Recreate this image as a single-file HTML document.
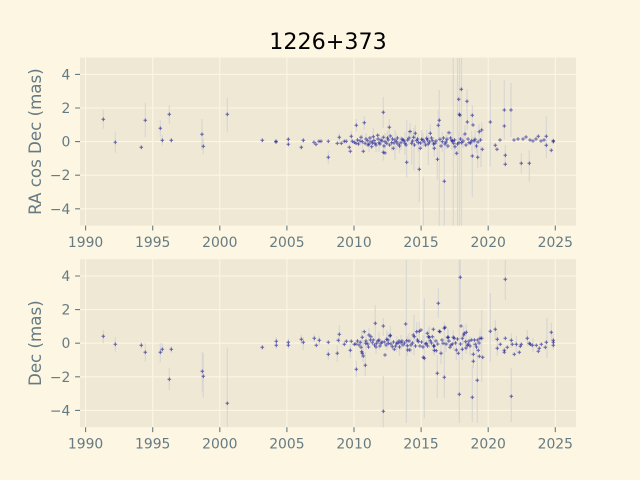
<!DOCTYPE html>
<html><head><meta charset="utf-8"><style>
html,body{margin:0;padding:0;background:#fdf6e3;}
svg{display:block;}
text{font-family:"DejaVu Sans","Liberation Sans",sans-serif;}
</style></head><body>
<svg width="640" height="480" viewBox="0 0 640 480" xmlns="http://www.w3.org/2000/svg">
<defs>
<path id="m" d="M-1.8 0H1.8M0 -1.8V1.8" stroke="#00008b" stroke-opacity="0.58" stroke-width="1" fill="none"/>
<clipPath id="c1"><rect x="80" y="57.6" width="496" height="168"/></clipPath>
<clipPath id="c2"><rect x="80" y="259.2" width="496" height="168"/></clipPath>
</defs>
<rect width="640" height="480" fill="#fdf6e3"/>
<text x="328" y="48.8" font-size="22.2" text-anchor="middle" fill="#000">1226+373</text>

<!-- ========== TOP AXES ========== -->
<rect x="80" y="57.6" width="496" height="168" fill="#eee8d5"/>
<g stroke="#fdf6e3" stroke-width="1.1">
<path d="M85.6 57.6V225.6M152.7 57.6V225.6M219.8 57.6V225.6M286.9 57.6V225.6M354 57.6V225.6M421.1 57.6V225.6M488.2 57.6V225.6M555.3 57.6V225.6"/>
<path d="M80 74.4H576M80 108H576M80 141.6H576M80 175.2H576M80 208.8H576"/>
</g>
<g clip-path="url(#c1)">
<path fill="none" stroke="#d3d3d3" stroke-opacity="0.85" stroke-width="1.2" d="
M103.3 109.8V128.8M115.3 131.7V152.7M141.3 145.3V149.3M145.3 103.3V137.3M160.3 120V136.7M162.3 135V145.6M169.3 105.3V124M171.3 138V142.6
M202 119V150M203.3 138V154.6M227.3 97.7V131.7M262.3 138.5V142.2M276 139.5V143.5M288.3 137V146.5M301.3 145V149.6M303.3 138V142.6
M328.3 151V163.6M339.3 133V141.6M351.3 131V141.6M356.3 119V131.6M364.3 116V129.4M383.3 97V128M389.3 119V135.6M383.3 144V160.6
M406.7 120V173M411.7 130V165M414 131.7V170M419.3 140V180M406.7 147V177.6M410 123V139.6M415.3 125V141.6M419.3 150V201.7M423.3 176.7V226
M437.3 139V179.6M438.3 110V140.6M439.3 90V226M444.3 140V226M453.3 58V226M457.5 58V226M459.5 58V226M461.5 58V226
M467 89V113.6M467.3 114V130M472.3 105V125.6M472.3 136.7V196.7M477.7 147V167.6M490.3 80V166.7M504.3 80V140M505.3 145V165M511 83V137
M521.3 153V173.6M529.3 150V181.7M546.3 116V158
M362.3 134V149M369 136V152M373.3 128V146M379 134V152M385 133V150M391.7 135V151M396.7 133V150M401 136V150M405 132V155
M413.7 128V147M418.3 134V152M421.7 130V149M426.7 130V147M430.3 124V142M434.3 140V157M442.3 132V152M447 131V149M451.7 132V150
M455 138V156M459 132V152M465 125V143M471.7 131V151M475 130V149M479 124V142M481.7 122V141M481 146V167M428.3 135V165M395 130V160
M366 133V146M376 138V152M387.5 131V145M399.5 139V153M409 131V145M423 133V147M433.5 137V151M446 135V149M463 134V148M476.5 139V153
"/>
<g>
<use href="#m" x="103.3" y="119.3"/><use href="#m" x="115.3" y="142.3"/><use href="#m" x="141.3" y="147.3"/><use href="#m" x="145.3" y="120.3"/>
<use href="#m" x="160.3" y="128.3"/><use href="#m" x="162.3" y="140.3"/><use href="#m" x="169.3" y="114.3"/><use href="#m" x="171.3" y="140.3"/>
<use href="#m" x="202" y="134.3"/><use href="#m" x="203.3" y="146.3"/><use href="#m" x="227.3" y="114.3"/><use href="#m" x="262.3" y="140.3"/>
<use href="#m" x="276" y="141.3"/><use href="#m" x="276" y="142"/><use href="#m" x="288.3" y="139.3"/><use href="#m" x="288.3" y="144.3"/>
<use href="#m" x="301.3" y="147.3"/><use href="#m" x="303.3" y="140.3"/><use href="#m" x="314" y="142.3"/><use href="#m" x="316" y="144.3"/>
<use href="#m" x="319" y="141.3"/><use href="#m" x="321" y="141.3"/><use href="#m" x="328.3" y="141.3"/><use href="#m" x="328.3" y="157.3"/>
<use href="#m" x="337.3" y="143.3"/><use href="#m" x="339.3" y="137.3"/><use href="#m" x="341.3" y="143.3"/><use href="#m" x="344.3" y="141.3"/>
<use href="#m" x="346.3" y="141.3"/><use href="#m" x="349.3" y="147.3"/><use href="#m" x="350.3" y="151.3"/><use href="#m" x="351.3" y="136.3"/>
<use href="#m" x="352.3" y="141.3"/><use href="#m" x="354.3" y="142.3"/><use href="#m" x="356.3" y="125.3"/><use href="#m" x="356" y="143.3"/>
<use href="#m" x="361" y="137.3"/><use href="#m" x="362.3" y="141.7"/><use href="#m" x="363.3" y="151.3"/><use href="#m" x="364.3" y="122.7"/>
<use href="#m" x="365" y="143.3"/><use href="#m" x="367.7" y="140.7"/><use href="#m" x="369" y="144"/><use href="#m" x="371" y="141.7"/>
<use href="#m" x="371.7" y="146.7"/><use href="#m" x="373.3" y="136.7"/><use href="#m" x="375" y="143.3"/><use href="#m" x="377.7" y="135.3"/>
<use href="#m" x="379" y="142.7"/><use href="#m" x="381" y="140"/><use href="#m" x="383.3" y="137.3"/><use href="#m" x="383.3" y="112.3"/>
<use href="#m" x="383.3" y="152.3"/><use href="#m" x="385" y="141.7"/><use href="#m" x="385" y="153"/><use href="#m" x="386.7" y="143.3"/>
<use href="#m" x="388.3" y="140"/><use href="#m" x="389.3" y="127.3"/><use href="#m" x="390.3" y="136"/><use href="#m" x="391.7" y="142.7"/>
<use href="#m" x="393.3" y="148.3"/><use href="#m" x="395" y="140"/><use href="#m" x="396.7" y="141.7"/><use href="#m" x="398" y="144"/>
<use href="#m" x="401" y="142.7"/><use href="#m" x="403" y="140"/><use href="#m" x="405" y="143.3"/><use href="#m" x="406.7" y="162.3"/>
<use href="#m" x="407.7" y="140"/><use href="#m" x="410" y="131.5"/><use href="#m" x="411.7" y="143.3"/><use href="#m" x="413.7" y="137.3"/>
<use href="#m" x="415.3" y="133.3"/><use href="#m" x="416.7" y="140.7"/><use href="#m" x="418.3" y="142.7"/><use href="#m" x="419.3" y="169.3"/>
<use href="#m" x="420.3" y="148.3"/><use href="#m" x="421.7" y="139.3"/><use href="#m" x="424.3" y="142"/><use href="#m" x="426.7" y="138.3"/>
<use href="#m" x="428.3" y="144"/><use href="#m" x="430.3" y="133.3"/><use href="#m" x="432.3" y="140.7"/><use href="#m" x="434.3" y="148.3"/>
<use href="#m" x="435" y="143.3"/><use href="#m" x="437.5" y="159.3"/><use href="#m" x="438.3" y="125.3"/><use href="#m" x="439.3" y="120.3"/>
<use href="#m" x="440" y="139.3"/><use href="#m" x="442.3" y="141.7"/><use href="#m" x="444.3" y="181.3"/><use href="#m" x="445" y="144"/>
<use href="#m" x="447" y="139.3"/><use href="#m" x="449" y="132.7"/><use href="#m" x="451.7" y="140.7"/><use href="#m" x="453.7" y="143.3"/>
<use href="#m" x="455" y="146.7"/><use href="#m" x="456.7" y="153.3"/><use href="#m" x="458.7" y="99.3"/><use href="#m" x="459.3" y="114.3"/>
<use href="#m" x="460" y="115.3"/><use href="#m" x="461.3" y="89.3"/><use href="#m" x="459" y="142.7"/><use href="#m" x="461.7" y="142.7"/>
<use href="#m" x="465" y="134"/><use href="#m" x="467" y="101.3"/><use href="#m" x="467.3" y="122"/><use href="#m" x="469" y="142.7"/>
<use href="#m" x="471.7" y="140.7"/><use href="#m" x="472.3" y="115.3"/><use href="#m" x="473" y="125"/><use href="#m" x="472.3" y="156"/>
<use href="#m" x="475" y="139.3"/><use href="#m" x="477.7" y="157.3"/><use href="#m" x="479.3" y="131.7"/><use href="#m" x="481.7" y="130"/>
<use href="#m" x="482.3" y="149.3"/><use href="#m" x="490.3" y="122"/><use href="#m" x="495.3" y="145.3"/><use href="#m" x="497" y="149.3"/>
<use href="#m" x="500" y="140"/><use href="#m" x="504.3" y="110"/><use href="#m" x="504.3" y="126"/><use href="#m" x="505.3" y="155.3"/>
<use href="#m" x="505.3" y="164.3"/><use href="#m" x="511" y="110"/><use href="#m" x="514" y="140"/><use href="#m" x="518" y="139"/>
<use href="#m" x="521.3" y="163.3"/><use href="#m" x="523" y="139"/><use href="#m" x="526" y="137"/><use href="#m" x="529.3" y="163.3"/>
<use href="#m" x="530" y="140"/><use href="#m" x="533" y="141"/><use href="#m" x="536" y="139"/><use href="#m" x="538.3" y="136.3"/>
<use href="#m" x="541" y="141"/><use href="#m" x="544" y="140"/><use href="#m" x="546.3" y="136.3"/><use href="#m" x="546.3" y="145.3"/>
<use href="#m" x="551.3" y="150.3"/><use href="#m" x="553.3" y="141.7"/><use href="#m" x="553.3" y="140.7"/>
<use href="#m" x="357.5" y="140"/><use href="#m" x="358.5" y="144"/><use href="#m" x="360" y="141"/><use href="#m" x="366" y="139"/>
<use href="#m" x="368" y="145"/><use href="#m" x="370" y="138"/><use href="#m" x="372.5" y="143"/><use href="#m" x="374" y="140.5"/>
<use href="#m" x="376" y="145"/><use href="#m" x="378" y="139"/><use href="#m" x="380" y="144"/><use href="#m" x="382" y="141"/>
<use href="#m" x="384" y="146"/><use href="#m" x="387.5" y="138"/><use href="#m" x="389.5" y="145"/><use href="#m" x="392.5" y="139"/>
<use href="#m" x="394" y="143"/><use href="#m" x="397.5" y="138"/><use href="#m" x="399.5" y="146"/><use href="#m" x="402" y="139"/>
<use href="#m" x="404" y="141"/><use href="#m" x="406" y="145"/><use href="#m" x="409" y="138"/><use href="#m" x="412.5" y="141"/>
<use href="#m" x="414.5" y="145"/><use href="#m" x="417.5" y="139"/><use href="#m" x="420.5" y="143"/><use href="#m" x="423" y="140"/>
<use href="#m" x="425.5" y="145"/><use href="#m" x="427.5" y="140"/><use href="#m" x="429.5" y="142"/><use href="#m" x="431.5" y="138"/>
<use href="#m" x="433.5" y="144"/><use href="#m" x="436" y="141"/><use href="#m" x="441" y="146"/><use href="#m" x="443.5" y="138"/>
<use href="#m" x="446" y="142"/><use href="#m" x="448" y="146"/><use href="#m" x="450.5" y="138"/><use href="#m" x="452.5" y="141"/>
<use href="#m" x="454.5" y="140"/><use href="#m" x="457.5" y="144"/><use href="#m" x="460.5" y="139"/><use href="#m" x="463" y="141"/>
<use href="#m" x="466" y="145"/><use href="#m" x="468" y="139"/><use href="#m" x="470.5" y="143"/><use href="#m" x="474" y="141"/>
<use href="#m" x="476.5" y="146"/><use href="#m" x="478" y="142"/><use href="#m" x="480.5" y="140"/>
</g>
</g>
<g stroke="#657b83" stroke-width="1.1">
<path d="M85.6 225.6V230.5M152.7 225.6V230.5M219.8 225.6V230.5M286.9 225.6V230.5M354 225.6V230.5M421.1 225.6V230.5M488.2 225.6V230.5M555.3 225.6V230.5"/>
<path d="M75.1 74.4H80M75.1 108H80M75.1 141.6H80M75.1 175.2H80M75.1 208.8H80"/>
</g>
<g font-size="13.9" fill="#657b83" text-anchor="middle">
<text x="85.6" y="247">1990</text><text x="152.7" y="247">1995</text><text x="219.8" y="247">2000</text><text x="286.9" y="247">2005</text>
<text x="354" y="247">2010</text><text x="421.1" y="247">2015</text><text x="488.2" y="247">2020</text><text x="555.3" y="247">2025</text>
</g>
<g font-size="13.9" fill="#657b83" text-anchor="end">
<text x="70.3" y="79.4">4</text><text x="70.3" y="113">2</text><text x="70.3" y="146.6">0</text><text x="70.3" y="180.2">−2</text><text x="70.3" y="213.8">−4</text>
</g>
<text transform="translate(41,141.6) rotate(-90)" font-size="16.67" fill="#657b83" text-anchor="middle">RA cos Dec (mas)</text>

<!-- ========== BOTTOM AXES ========== -->
<rect x="80" y="259.2" width="496" height="168" fill="#eee8d5"/>
<g stroke="#fdf6e3" stroke-width="1.1">
<path d="M85.6 259.2V427.2M152.7 259.2V427.2M219.8 259.2V427.2M286.9 259.2V427.2M354 259.2V427.2M421.1 259.2V427.2M488.2 259.2V427.2M555.3 259.2V427.2"/>
<path d="M80 276H576M80 309.6H576M80 343.2H576M80 376.8H576M80 410.4H576"/>
</g>
<g clip-path="url(#c2)">
<path fill="none" stroke="#d3d3d3" stroke-opacity="0.85" stroke-width="1.2" d="
M103.3 330V343.3M115.3 337.3V351.7M141.3 342V349M145.3 343.3V361.7M160.3 343.3V362.3M162.3 343.3V353.3M169.3 368.3V390M171.3 346V353
M202.3 351.7V391.7M203.3 353.3V397.7M227.3 348.3V426.7M262.3 345V350M276.3 337V349M288.3 338V349M301.3 335V344M303.3 337V350M314.3 334V342
M319.3 336V345M328.3 349V360M337.3 345V362M339.3 325V344M350.3 344V358M356.3 361V377M361.7 330V358M365.3 352V376M375.3 305V340M383.3 376V435
M383.3 318V336M390.3 326V346M406.3 260V423M407.3 336V356M414 315V355M419.3 322V342M424.3 298V418M429.3 326V348M438.3 288V318M437.3 355V398
M444.3 322V398M448.3 329V346M453.3 330V350M459.3 260V423M460.3 255V322M462.3 338V360M466.3 324V342M472.3 365V422M473.3 342V368M477.3 355V423
M481.7 310V382M490.3 293V362M495.3 320V340M497.3 330V356M505.3 260V300M511.3 368V422M511.3 333V348M516.3 336V352M527.3 330V346M533 338V352
M547 318V358M551.3 323V341M553.3 333V350M363 340V362M369 328V345M379 332V350M386.7 330V350M396.7 336V352M401 335V350M411 337V353M416.7 322V342
M428.3 328V346M434.3 336V356M441 344V364M447.7 328V346M456.3 340V360M463.7 326V344M470 336V356M480 329V348
M366 335V350M376 339V354M388 332V348M399.5 340V356M409 333V349M423 335V350M433.5 338V354M446 336V352M466 338V354M476.5 340V356
"/>
<g>
<use href="#m" x="103.3" y="336.3"/><use href="#m" x="115.3" y="344.3"/><use href="#m" x="141.3" y="345.3"/><use href="#m" x="145.3" y="352.3"/>
<use href="#m" x="160.3" y="352.3"/><use href="#m" x="162.3" y="349.3"/><use href="#m" x="169.3" y="379.3"/><use href="#m" x="171.3" y="349.3"/>
<use href="#m" x="202.3" y="371.3"/><use href="#m" x="203.3" y="376.3"/><use href="#m" x="227.3" y="403.3"/><use href="#m" x="262.3" y="347.3"/>
<use href="#m" x="276.3" y="341.3"/><use href="#m" x="276.3" y="345.3"/><use href="#m" x="288.3" y="342.3"/><use href="#m" x="288.3" y="345.3"/>
<use href="#m" x="301.3" y="339.3"/><use href="#m" x="303.3" y="342.3"/><use href="#m" x="314.3" y="338.3"/><use href="#m" x="316.3" y="345.3"/>
<use href="#m" x="319.3" y="340.3"/><use href="#m" x="328.3" y="342.3"/><use href="#m" x="328.3" y="354.3"/>
<use href="#m" x="337.3" y="353.3"/><use href="#m" x="338.3" y="340.3"/><use href="#m" x="339.3" y="334.3"/><use href="#m" x="344.3" y="344.3"/>
<use href="#m" x="346.3" y="341.3"/><use href="#m" x="350.3" y="350.3"/><use href="#m" x="351.3" y="341.3"/><use href="#m" x="354.3" y="344.3"/>
<use href="#m" x="356.3" y="369.3"/><use href="#m" x="356" y="344"/><use href="#m" x="360.3" y="342.3"/><use href="#m" x="361" y="347.3"/>
<use href="#m" x="361.7" y="351.7"/><use href="#m" x="362.3" y="353.3"/><use href="#m" x="362.3" y="337.3"/><use href="#m" x="363.3" y="356"/>
<use href="#m" x="364.3" y="331.7"/><use href="#m" x="365.3" y="365.3"/><use href="#m" x="365.7" y="343.3"/><use href="#m" x="367.7" y="344"/>
<use href="#m" x="369" y="335"/><use href="#m" x="371" y="336.7"/><use href="#m" x="372.3" y="342.7"/><use href="#m" x="373.3" y="340"/>
<use href="#m" x="375.3" y="323.3"/><use href="#m" x="376.7" y="343.3"/><use href="#m" x="379" y="340"/><use href="#m" x="381" y="343.3"/>
<use href="#m" x="383.3" y="326"/><use href="#m" x="383.3" y="411.3"/><use href="#m" x="384.3" y="342"/><use href="#m" x="385" y="355"/>
<use href="#m" x="386.7" y="339.3"/><use href="#m" x="388.3" y="343.3"/><use href="#m" x="390" y="336"/><use href="#m" x="390.3" y="335.3"/>
<use href="#m" x="391" y="344"/><use href="#m" x="392.3" y="346.7"/><use href="#m" x="394.3" y="349.3"/><use href="#m" x="396.7" y="343.3"/>
<use href="#m" x="399" y="341"/><use href="#m" x="401" y="342.7"/><use href="#m" x="403" y="345"/><use href="#m" x="405.7" y="324"/>
<use href="#m" x="406.7" y="340.7"/><use href="#m" x="407.3" y="345.7"/><use href="#m" x="407.7" y="350"/><use href="#m" x="409.7" y="350"/>
<use href="#m" x="411" y="345"/><use href="#m" x="413.3" y="335"/><use href="#m" x="414.3" y="336.7"/><use href="#m" x="416.7" y="331.7"/>
<use href="#m" x="418.3" y="341.7"/><use href="#m" x="419.3" y="331.3"/><use href="#m" x="420" y="346"/><use href="#m" x="421" y="330"/>
<use href="#m" x="423.3" y="357.3"/><use href="#m" x="424.3" y="358.3"/><use href="#m" x="425.7" y="344"/><use href="#m" x="426.3" y="343.3"/>
<use href="#m" x="427.3" y="333.3"/><use href="#m" x="428.3" y="336.7"/><use href="#m" x="429.3" y="337.3"/><use href="#m" x="430.3" y="340.7"/>
<use href="#m" x="432.3" y="336.7"/><use href="#m" x="433.3" y="329.3"/><use href="#m" x="434.3" y="346"/><use href="#m" x="434.3" y="350.3"/>
<use href="#m" x="436.3" y="350.7"/><use href="#m" x="437.3" y="373.3"/><use href="#m" x="437.7" y="344"/><use href="#m" x="438.3" y="303.3"/>
<use href="#m" x="439.3" y="331.3"/><use href="#m" x="440" y="331.7"/><use href="#m" x="441" y="353.3"/><use href="#m" x="443" y="343.3"/>
<use href="#m" x="444.3" y="328.3"/><use href="#m" x="444.3" y="377.3"/><use href="#m" x="445" y="327.3"/><use href="#m" x="447.7" y="337.3"/>
<use href="#m" x="448.3" y="337.3"/><use href="#m" x="450" y="347.3"/><use href="#m" x="452.3" y="344"/><use href="#m" x="453.3" y="337.3"/>
<use href="#m" x="454.3" y="338.3"/><use href="#m" x="456.3" y="350"/><use href="#m" x="458.3" y="353.3"/><use href="#m" x="459.3" y="394.3"/>
<use href="#m" x="460.3" y="277.3"/><use href="#m" x="461" y="326"/><use href="#m" x="462.3" y="338.3"/><use href="#m" x="462.3" y="349.3"/>
<use href="#m" x="463.7" y="335"/><use href="#m" x="464.3" y="333.3"/><use href="#m" x="465.7" y="341.7"/><use href="#m" x="466.3" y="332.3"/>
<use href="#m" x="467.3" y="345.3"/><use href="#m" x="468.3" y="344"/><use href="#m" x="470" y="346"/><use href="#m" x="471.7" y="340"/>
<use href="#m" x="472.3" y="397.3"/><use href="#m" x="473.3" y="354.3"/><use href="#m" x="473.3" y="361.3"/><use href="#m" x="475.3" y="344.3"/>
<use href="#m" x="477.3" y="380.3"/><use href="#m" x="477.7" y="340"/><use href="#m" x="478.3" y="350.3"/><use href="#m" x="479.3" y="356.3"/>
<use href="#m" x="480" y="338.3"/><use href="#m" x="481.7" y="338.3"/><use href="#m" x="482.7" y="357.3"/><use href="#m" x="490.3" y="331.3"/>
<use href="#m" x="495.3" y="329.3"/><use href="#m" x="497.3" y="339.3"/><use href="#m" x="497.3" y="348.3"/><use href="#m" x="500.3" y="344.3"/>
<use href="#m" x="504.3" y="350.3"/><use href="#m" x="504.3" y="352.3"/><use href="#m" x="505.3" y="279.3"/><use href="#m" x="505.3" y="338.3"/>
<use href="#m" x="507.3" y="347.3"/><use href="#m" x="511.3" y="340.3"/><use href="#m" x="511.3" y="396.3"/><use href="#m" x="512.3" y="344.3"/>
<use href="#m" x="514.3" y="354.3"/><use href="#m" x="516.3" y="344.3"/><use href="#m" x="519.3" y="352.3"/><use href="#m" x="520.3" y="346.3"/>
<use href="#m" x="521.3" y="344.3"/><use href="#m" x="527.3" y="338.3"/><use href="#m" x="529.3" y="343.3"/><use href="#m" x="530.3" y="344.3"/>
<use href="#m" x="532.3" y="345.3"/><use href="#m" x="536.3" y="345.3"/><use href="#m" x="538.3" y="351.3"/><use href="#m" x="539.3" y="348.3"/>
<use href="#m" x="541.3" y="344.3"/><use href="#m" x="545.3" y="347.3"/><use href="#m" x="546.3" y="342.3"/><use href="#m" x="551.3" y="332.3"/>
<use href="#m" x="553.3" y="340.3"/><use href="#m" x="553.3" y="342.3"/><use href="#m" x="553.3" y="345.3"/>
<use href="#m" x="357.5" y="341"/><use href="#m" x="359" y="345"/><use href="#m" x="366" y="341"/><use href="#m" x="368.5" y="347"/>
<use href="#m" x="370.5" y="340"/><use href="#m" x="374.5" y="345"/><use href="#m" x="376" y="347"/><use href="#m" x="378" y="341"/>
<use href="#m" x="380" y="346"/><use href="#m" x="382" y="342"/><use href="#m" x="386" y="345"/><use href="#m" x="388" y="340"/>
<use href="#m" x="393.5" y="342"/><use href="#m" x="395.5" y="346"/><use href="#m" x="398" y="343"/><use href="#m" x="399.5" y="347"/>
<use href="#m" x="402" y="341"/><use href="#m" x="404.5" y="343"/><use href="#m" x="409" y="341"/><use href="#m" x="412.5" y="343"/>
<use href="#m" x="415.5" y="346"/><use href="#m" x="417.5" y="340"/><use href="#m" x="421.5" y="342"/><use href="#m" x="423" y="347"/>
<use href="#m" x="427.5" y="346"/><use href="#m" x="431.5" y="343"/><use href="#m" x="433.5" y="346"/><use href="#m" x="436" y="341"/>
<use href="#m" x="442" y="340"/><use href="#m" x="446" y="344"/><use href="#m" x="449" y="341"/><use href="#m" x="451" y="345"/>
<use href="#m" x="455.5" y="343"/><use href="#m" x="457.5" y="339"/><use href="#m" x="460.5" y="344"/><use href="#m" x="466" y="348"/>
<use href="#m" x="469" y="341"/><use href="#m" x="474.5" y="340"/><use href="#m" x="476.5" y="347"/><use href="#m" x="479" y="343"/>
</g>
</g>
<g stroke="#657b83" stroke-width="1.1">
<path d="M85.6 427.2V432.1M152.7 427.2V432.1M219.8 427.2V432.1M286.9 427.2V432.1M354 427.2V432.1M421.1 427.2V432.1M488.2 427.2V432.1M555.3 427.2V432.1"/>
<path d="M75.1 276H80M75.1 309.6H80M75.1 343.2H80M75.1 376.8H80M75.1 410.4H80"/>
</g>
<g font-size="13.9" fill="#657b83" text-anchor="middle">
<text x="85.6" y="448.6">1990</text><text x="152.7" y="448.6">1995</text><text x="219.8" y="448.6">2000</text><text x="286.9" y="448.6">2005</text>
<text x="354" y="448.6">2010</text><text x="421.1" y="448.6">2015</text><text x="488.2" y="448.6">2020</text><text x="555.3" y="448.6">2025</text>
</g>
<g font-size="13.9" fill="#657b83" text-anchor="end">
<text x="70.3" y="281">4</text><text x="70.3" y="314.6">2</text><text x="70.3" y="348.2">0</text><text x="70.3" y="381.8">−2</text><text x="70.3" y="415.4">−4</text>
</g>
<text transform="translate(41,343.2) rotate(-90)" font-size="16.67" fill="#657b83" text-anchor="middle">Dec (mas)</text>
</svg>
</body></html>
